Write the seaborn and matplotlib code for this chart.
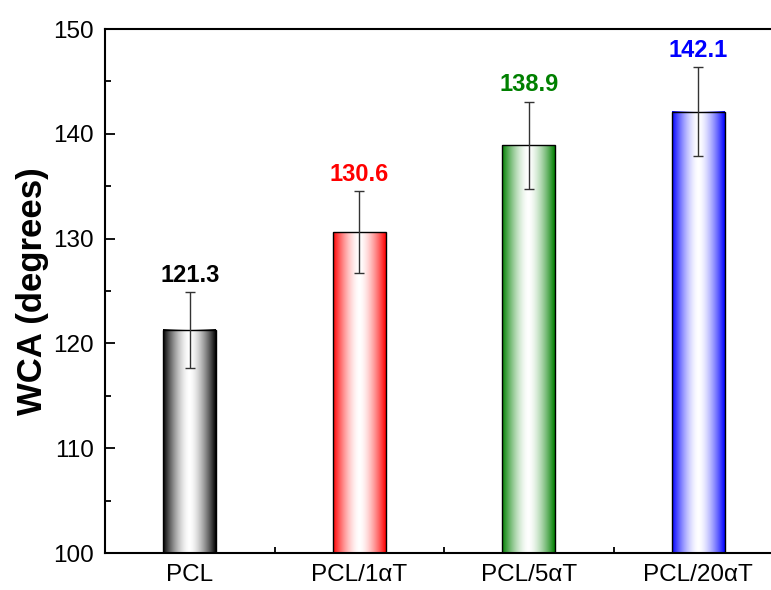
import numpy as np
import pandas as pd
import matplotlib
matplotlib.use("Agg")
import matplotlib.pyplot as plt
from matplotlib.ticker import MultipleLocator
from matplotlib.colors import to_rgb
import seaborn as sns

# Water contact angle measurements
samples = ["PCL", "PCL/1\u03b1T", "PCL/5\u03b1T", "PCL/20\u03b1T"]
wca_mean = [121.3, 130.6, 138.9, 142.1]
wca_err = [3.6, 3.9, 4.15, 4.25]
bar_colors = ["#000000", "#ff0000", "#008000", "#0000ff"]

sns.set_style("ticks")
plt.rcParams["font.family"] = ["Liberation Sans", "DejaVu Sans"]
plt.rcParams["text.color"] = "black"
plt.rcParams["axes.labelcolor"] = "black"

df = pd.DataFrame({"sample": samples, "wca": wca_mean})

fig = plt.figure(figsize=(7.71, 5.9), dpi=100)
ax = fig.add_axes([105 / 771, 37 / 590, 678 / 771, 524 / 590])

sns.barplot(data=df, x="sample", y="wca", order=samples, width=0.31,
            errorbar=None, facecolor="none", edgecolor="black",
            linewidth=1.0, ax=ax, zorder=3)

y_lo, y_hi = 100, 150

# Horizontal shading: saturated colour at the edges, white in the middle
xs = np.linspace(0, 1, 256)
t = np.abs(xs - 0.5) * 2
weight = t ** 1.6
for patch, col in zip(ax.patches, bar_colors):
    rgb = np.array(to_rgb(col))
    row = (1 - weight)[:, None] * 1.0 + weight[:, None] * rgb[None, :]
    img = np.repeat(row[None, :, :], 2, axis=0)
    x0, w = patch.get_x(), patch.get_width()
    top = patch.get_y() + patch.get_height()
    ax.imshow(img, extent=[x0, x0 + w, y_lo, top], aspect="auto",
              origin="lower", zorder=2, interpolation="bilinear")

ax.set_ylim(y_lo, y_hi)
ax.set_xlim(-0.5, 3.5)

xpos = np.arange(len(samples))
ax.errorbar(xpos, wca_mean, yerr=wca_err, fmt="none", ecolor="#333333",
            elinewidth=1.0, capsize=3.6, capthick=1.0, zorder=4)

for x, m, e, col in zip(xpos, wca_mean, wca_err, bar_colors):
    ax.annotate(f"{m:.1f}", xy=(x, m + e), xytext=(0, 7.5),
                textcoords="offset points", ha="center", va="baseline",
                fontsize=17, fontweight="bold", color=col, zorder=5)

ax.set_xlabel("")
ax.set_ylabel("WCA (degrees)", fontsize=25, fontweight="bold", labelpad=3,
              color="black")

for side in ["left", "bottom", "top", "right"]:
    ax.spines[side].set_linewidth(1.5)
    ax.spines[side].set_color("black")

ax.yaxis.set_major_locator(MultipleLocator(10))
ax.yaxis.set_minor_locator(MultipleLocator(5))
ax.xaxis.set_minor_locator(MultipleLocator(0.5))
ax.tick_params(axis="both", which="major", direction="in", length=7.5,
               width=1.3, colors="black", labelsize=17.5)
ax.tick_params(axis="y", which="major", pad=8)
ax.tick_params(axis="x", which="major", pad=8)
ax.tick_params(axis="both", which="minor", direction="in", length=4,
               width=1.3, colors="black")
ax.tick_params(top=False, right=False, which="both")

fig.savefig("out.png", dpi=100)
